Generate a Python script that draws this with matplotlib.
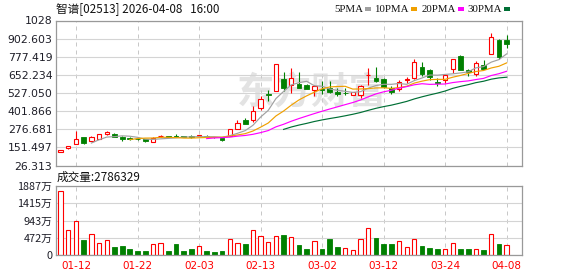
import numpy as np
import pandas as pd
import matplotlib
matplotlib.use("Agg")
import matplotlib.pyplot as plt
from matplotlib.patches import Rectangle

# ---------------- data ----------------
tick_dates = ["01-12", "01-22", "02-03", "02-13", "03-02", "03-12", "03-24", "04-08"]
tick_index = [2, 10, 18, 26, 34, 42, 50, 58]

opens = [122, 145, 175, 221, 198, 212, 243, 246, 225, 216,
         209, 207, 191, 228, 230, 229, 230, 232, 230, 232,
         222, 216, 232, 281, 340, 343, 422, 518, 539, 624,
         582, 592, 582, 545, 556, 562, 537, 529, 513, 515,
         648, 629, 625, 560, 555, 618, 629, 707, 684, 603,
         619, 691, 783, 686, 656, 718, 799, 893, 893]
closes = [131, 162, 209, 184, 221, 244, 255, 224, 212, 208,
          206, 193, 214, 231, 224, 223, 222, 221, 238, 223,
          221, 203, 278, 318, 316, 403, 488, 510, 725, 564,
          629, 563, 558, 572, 547, 532, 519, 524, 533, 573,
          652, 610, 568, 532, 601, 624, 739, 658, 635, 594,
          651, 760, 688, 672, 732, 695, 914, 776, 868]
highs = [135, 164, 265, 222, 230, 246, 263, 251, 228, 222,
         213, 208, 220, 240, 232, 244, 233, 240, 240, 234,
         224, 217, 280, 339, 355, 440, 506, 545, 725, 674,
         697, 670, 586, 584, 609, 612, 564, 564, 535, 580,
         703, 705, 628, 578, 616, 640, 761, 741, 693, 630,
         651, 760, 790, 694, 748, 752, 939, 898, 926]
lows = [120, 143, 172, 177, 193, 210, 235, 222, 198, 201,
        204, 192, 188, 222, 222, 222, 220, 219, 228, 221,
        219, 198, 228, 277, 311, 330, 410, 470, 539, 541,
        528, 560, 556, 506, 518, 528, 508, 510, 511, 491,
        580, 603, 560, 519, 540, 597, 625, 646, 618, 574,
        597, 668, 686, 647, 645, 693, 799, 763, 836]
# volume in 万 (10k shares)
volumes = [1750, 684, 930, 419, 574, 328, 410, 228, 255, 164,
           118, 118, 292, 328, 118, 310, 118, 173, 246, 118,
           91, 118, 438, 328, 310, 684, 520, 355, 510, 547,
           492, 273, 164, 383, 164, 438, 219, 182, 128, 438,
           729, 465, 301, 301, 383, 219, 438, 246, 191, 164,
           164, 328, 164, 164, 164, 137, 574, 301, 278.6329]

price_ticks = [26.313, 151.497, 276.681, 401.866, 527.050, 652.234, 777.419, 902.603, 1027.785]
price_labels = ["26.313", "151.497", "276.681", "401.866", "527.050", "652.234", "777.419", "902.603", "1028"]
vol_ticks = [0, 471.75, 943.5, 1415.25, 1887]
vol_labels = ["0", "472万", "943万", "1415万", "1887万"]

ma_periods = [5, 10, 20, 30]
ma_names = ["5PMA", "10PMA", "20PMA", "30PMA"]
ma_colors = ["#a0a0a0", "#f0a000", "#ff00ff", "#006f35"]

title_text = "智谱[02513] 2026-04-08   16:00"
vol_title = "成交量:2786329"

# ---------------- style ----------------
RED = "#ff0000"
GREEN = "#008000"
GRID = "#d4d4d4"
FRAME = "#999999"
CJK = ["Noto Sans CJK SC", "DejaVu Sans"]

W, H = 578, 276
fig = plt.figure(figsize=(W / 100, H / 100), dpi=100)
fig.patch.set_facecolor("white")

def fx(px):
    return px / W

def fy(py):
    return 1 - py / H

ax = fig.add_axes([fx(56), fy(165.5), fx(522) - fx(56), fy(20.5) - fy(165.5)])
axv = fig.add_axes([fx(56), fy(255), fx(522) - fx(56), fy(186) - fy(255)])

n = len(closes)
x = np.arange(n)
o = np.array(opens, float)
c = np.array(closes, float)
h = np.array(highs, float)
l = np.array(lows, float)
v = np.array(volumes, float)

up = c >= o
top = np.maximum(o, c)
bot = np.minimum(o, c)
cols = np.where(up, RED, GREEN)

# wicks
ax.vlines(x, top, h, colors=cols, lw=0.8, zorder=2)
ax.vlines(x, l, bot, colors=cols, lw=0.8, zorder=2)
# bodies
ax.bar(x[up], (top - bot)[up] + 0.01, bottom=bot[up], width=0.56,
       facecolor="white", edgecolor=RED, lw=0.8, zorder=2.5)
ax.bar(x[~up], (top - bot)[~up], bottom=bot[~up], width=0.62,
       facecolor=GREEN, edgecolor=GREEN, lw=0.6, zorder=2.5)

# moving averages
cs = pd.Series(c)
for p, col in zip(ma_periods, ma_colors):
    ax.plot(x, cs.rolling(p).mean(), color=col, lw=0.85, zorder=3)

# volume
prev = np.concatenate([[o[0]], c[:-1]])
vup = c >= prev
axv.bar(x[vup], v[vup], width=0.56, facecolor="white", edgecolor=RED, lw=0.8, zorder=2.5)
axv.bar(x[~vup], v[~vup], width=0.62, facecolor=GREEN, edgecolor=GREEN, lw=0.6, zorder=2.5)

for a in (ax, axv):
    a.set_xlim(-0.6, 60.0)
    a.set_xticks(tick_index)
    a.set_axisbelow(True)
    a.grid(axis="y", color=GRID, lw=0.8, zorder=0.5)
    a.grid(axis="x", color="#c8c8c8", lw=0.72, linestyle=(0, (4, 4)), zorder=0.5)
    for s in a.spines.values():
        s.set_color(FRAME)
        s.set_linewidth(0.9)
    a.tick_params(axis="y", length=0, pad=2.6, labelsize=7.8, labelcolor="#1e1e28")

ax.set_ylim(price_ticks[0], price_ticks[-1])
ax.set_yticks(price_ticks)
ax.set_yticklabels(price_labels)
ax.tick_params(axis="x", length=0, labelbottom=False)

axv.set_ylim(vol_ticks[0], vol_ticks[-1])
axv.set_yticks(vol_ticks)
axv.set_yticklabels(vol_labels, family=CJK)
axv.set_xticklabels(tick_dates)
axv.tick_params(axis="x", length=0, pad=4, labelsize=7.5, labelcolor=RED)

# watermark
ax.text(0.55, 0.50, "东方财富", transform=ax.transAxes, fontsize=27, fontweight="bold",
        family=CJK, color="#e3e3e3", ha="center", va="center", zorder=0.1)

# titles
fig.text(fx(56), fy(8.5), title_text, family=CJK, fontsize=8.4, color="#111111",
         ha="left", va="center")
fig.text(fx(57), fy(177), vol_title, family=CJK, fontsize=8.4, color="#111111",
         ha="left", va="center")

# legend
text_right = [363, 409, 456, 502]
for name, col, tr in zip(ma_names, ma_colors, text_right):
    fig.text(fx(tr), fy(9), name, family=["Liberation Serif", "DejaVu Serif"], fontsize=7.8,
             color="#111111", ha="right", va="center")
    fig.add_artist(Rectangle((fx(tr + 2), fy(11)), 6 / W, 4 / H, transform=fig.transFigure,
                             facecolor=col, edgecolor="none"))

fig.savefig("out.png", dpi=100)
